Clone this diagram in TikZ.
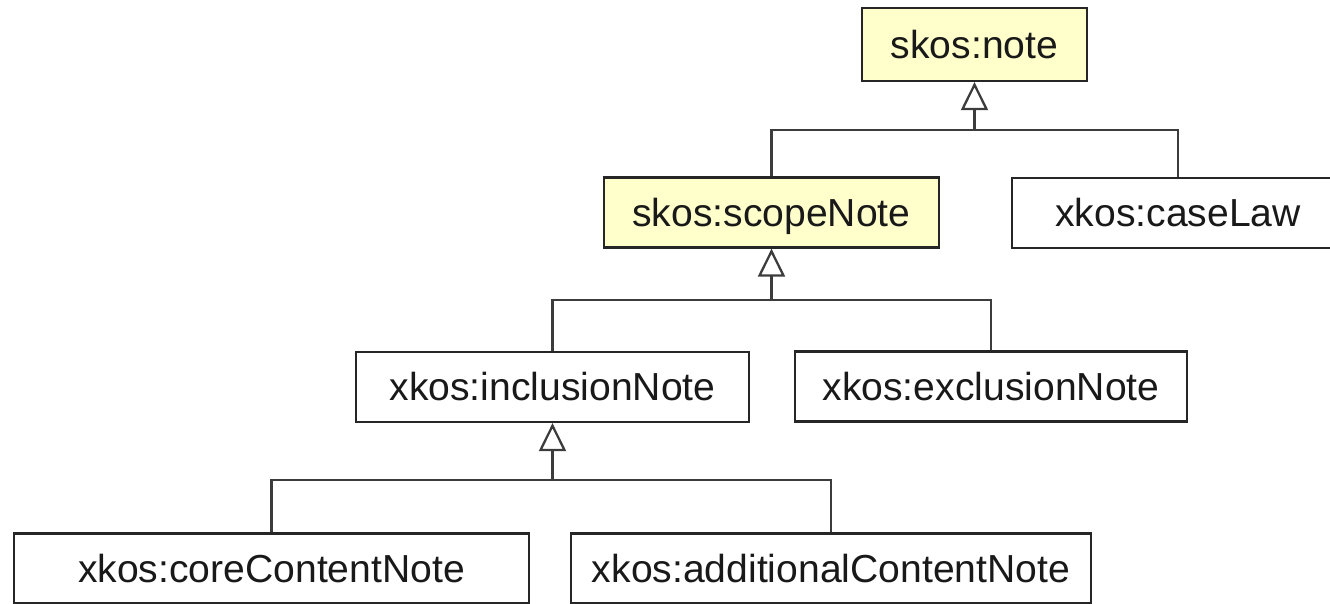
\documentclass[tikz,border=0pt]{standalone}
\usepackage{fontspec}
\setmainfont{Liberation Sans}
\usetikzlibrary{arrows.meta}
\definecolor{noteyellow}{RGB}{255,255,204}
\definecolor{edgegray}{RGB}{60,60,60}

\begin{document}
\begin{tikzpicture}[x=0.02cm,y=-0.02cm,
    cls/.style={draw=black!85, line width=1.3pt, fill=white, inner sep=0pt,
        minimum height=1.4cm, text height=0.56cm, text depth=0pt,
        font=\fontsize{22.25}{26}\selectfont, text=black!90},
    skoscls/.style={cls, fill=noteyellow},
    link/.style={draw=edgegray, line width=1.3pt},
    gen/.style={link, -{Triangle[open, length=0.56cm, width=0.54cm, line width=1.3pt]}}]
    \useasboundingbox (0,0) rectangle (1330,604);

    % classes
    \node[skoscls, minimum width=4.5cm, minimum height=1.46cm] (note) at (974.5,44.5) {skos:note};
    \node[skoscls, minimum width=6.7cm] (scope) at (771.5,212.5) {skos:scopeNote};
    \node[cls, minimum width=6.64cm] (caselaw) at (1178,213) {xkos:caseLaw};
    \node[cls, minimum width=7.86cm] (inclusion) at (552.5,387) {xkos:inclusionNote};
    \node[cls, minimum width=7.84cm] (exclusion) at (991,386.5) {xkos:exclusionNote};
    \node[cls, minimum width=10.3cm] (core) at (271.5,568.5) {xkos:coreContentNote};
    \node[cls, minimum width=10.4cm] (additional) at (831,568.5) {xkos:additionalContentNote};

    % junctions
    \coordinate (j1) at (974.5,130);
    \coordinate (j2) at (771.5,300);
    \coordinate (j3) at (552.5,480);

    % generalisations
    \draw[gen] (j1) -- (note.south);
    \draw[link] (scope.north) |- (j1) -| (caselaw.north);
    \draw[gen] (j2) -- (scope.south);
    \draw[link] (inclusion.north) |- (j2) -| (exclusion.north);
    \draw[gen] (j3) -- (inclusion.south);
    \draw[link] (core.north) |- (j3) -| (additional.north);
\end{tikzpicture}
\end{document}
